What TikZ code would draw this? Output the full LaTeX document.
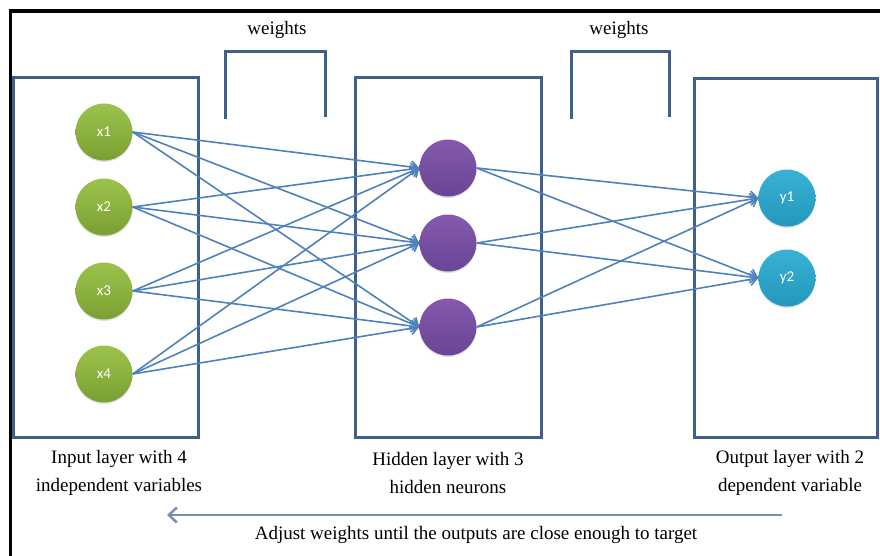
\documentclass[tikz,border=0pt]{standalone}
\usepackage{fontspec}
\setmainfont{Liberation Serif}
\newfontfamily\nodefont{Carlito}
\usetikzlibrary{arrows.meta,shadows}
\definecolor{edgeblue}{HTML}{4F81BD}
\definecolor{boxblue}{HTML}{3F5F8C}
\definecolor{arrowgray}{HTML}{7890B0}
\definecolor{gtop}{HTML}{9CC24C}
\definecolor{gbot}{HTML}{7AA033}
\definecolor{ptop}{HTML}{8459AE}
\definecolor{pbot}{HTML}{6A4495}
\definecolor{ctop}{HTML}{38B2D4}
\definecolor{cbot}{HTML}{2496BC}
\tikzset{
  neuron/.style={circle, minimum size=57pt, inner sep=0pt, text=white,
    font=\nodefont\fontsize{15}{16}\selectfont,
    drop shadow={opacity=0.25, shadow xshift=0pt, shadow yshift=-1.5pt}},
  inn/.style={neuron, top color=gtop, bottom color=gbot},
  hid/.style={neuron, top color=ptop, bottom color=pbot},
  outn/.style={neuron, top color=ctop, bottom color=cbot},
  layerbox/.style={draw=boxblue, line width=3pt},
  bracket/.style={draw=boxblue, line width=3pt},
  conn/.style={draw=edgeblue, line width=1.6pt, -{Straight Barb[length=7pt,width=12pt,line width=1.6pt]}},
  lbl/.style={align=center, font=\fontsize{19}{28}\selectfont, text=black},
  wlbl/.style={font=\fontsize{19}{22}\selectfont, text=black}
}
\begin{document}
\begin{tikzpicture}[x=1pt,y=-1pt]
\useasboundingbox (0,0) rectangle (880,555);
% outer border (top and left visible)
\draw[line width=3.5pt, black] (10.5,556) -- (10.5,11) -- (881,11);
% layer boxes
\draw[layerbox] (13,77) rectangle (198,437);
\draw[layerbox] (355,77) rectangle (541,437);
\draw[layerbox] (694,78) rectangle (877,437);
% weight brackets
\draw[bracket] (225,119) -- (225,51) -- (325,51) -- (325,117);
\draw[bracket] (571,119) -- (571,51) -- (669,51) -- (669,117);
\node[wlbl] (w1) at (277,30) {weights};
\node[wlbl] (w2) at (619,30) {weights};
% neurons
\node[inn] (x1) at (104,132) {x1};
\node[inn] (x2) at (104,207) {x2};
\node[inn] (x3) at (104,291) {x3};
\node[inn] (x4) at (104,374) {x4};
\node[hid] (h1) at (448,168) {};
\node[hid] (h2) at (448,243) {};
\node[hid] (h3) at (448,327) {};
\node[outn] (y1) at (787,198) {y1};
\node[outn] (y2) at (787,278) {y2};
% connections
\foreach \s in {x1,x2,x3,x4}{
  \foreach \t in {h1,h2,h3}{
    \draw[conn] (\s.east) -- (\t.west);
  }
}
\foreach \s in {h1,h2,h3}{
  \foreach \t in {y1,y2}{
    \draw[conn] (\s.east) -- (\t.west);
  }
}
% labels
\node[lbl] (li) at (119,473) {Input layer with 4\\independent variables};
\node[lbl] (lh) at (448,473) {Hidden layer with 3\\hidden neurons};
\node[lbl] (lo) at (790,473) {Output layer with 2\\dependent variable};
% feedback arrow
\coordinate (fbS) at (782,515);
\coordinate (fbE) at (167,515);
\draw[arrowgray, line width=2.5pt, -{Straight Barb[length=8pt,width=15pt,line width=2.5pt]}] (fbS) -- (fbE);
\node[wlbl] (fbt) at (476,535) {Adjust weights until the outputs are close enough to target};
\end{tikzpicture}
\end{document}
